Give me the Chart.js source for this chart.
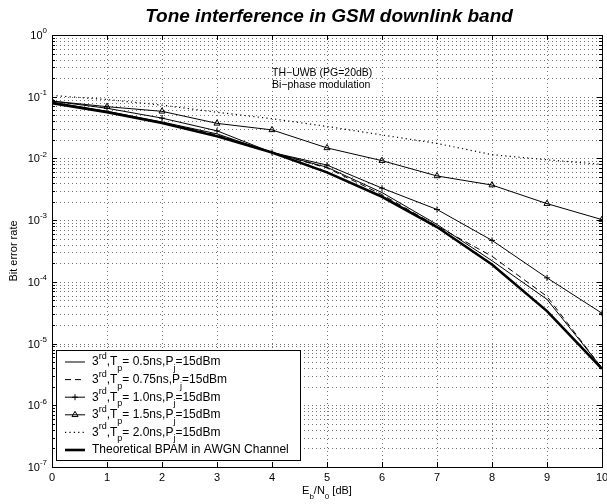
<!DOCTYPE html>
<html><head><meta charset="utf-8">
<script src="https://cdn.jsdelivr.net/npm/chart.js@4/dist/chart.umd.min.js"></script>
<style>html,body{margin:0;padding:0;background:#fff}#wrap{width:607px;height:504px;position:relative}</style>
</head><body><div id="wrap"><canvas id="c" width="607" height="504"></canvas></div>
<script>
// ---- data ----
const ebn0 = [0,1,2,3,4,5,6,7,8,9,10];
const berTp050 = [0.082,0.058,0.039,0.025,0.0125,0.0072,0.0028,0.00085,0.00022,0.000052,0.0000040];
const berTp075 = [0.080,0.057,0.038,0.024,0.0125,0.0070,0.0026,0.00080,0.00026,0.000058,0.0000040];
const berTp100 = [0.085,0.065,0.045,0.028,0.0125,0.0078,0.0033,0.00149,0.00047,0.000116,0.000031];
const berTp150 = [0.085,0.069,0.058,0.037,0.029,0.0148,0.0092,0.0052,0.0037,0.00185,0.00102];
const berTp200 = [0.105,0.090,0.073,0.056,0.044,0.033,0.024,0.0175,0.0115,0.0095,0.0080];
const berBPAM  = [0.0786,0.0563,0.0375,0.0229,0.0125,0.00595,0.00239,0.000773,0.000191,0.0000336,0.0000039];
const pulseWidths = ['0.5','0.75','1.0','1.5','2.0'];
const xTickValues = [0,1,2,3,4,5,6,7,8,9,10];
const yTickExponents = [0,-1,-2,-3,-4,-5,-6,-7];
const titleText = 'Tone interference in GSM downlink band';
const noteLines = ['TH\u2212UWB (PG=20dB)','Bi\u2212phase modulation'];
const lastLegendText = 'Theoretical BPAM in AWGN Channel';

const FONT = '"Liberation Sans", Arial, Helvetica, sans-serif';
const pts = arr => ebn0.map((x,i)=>({x, y:arr[i]}));

const styles = [
  {data:berTp050, width:1, dash:[], point:false, r:0},
  {data:berTp075, width:1, dash:[6,4], point:false, r:0},
  {data:berTp100, width:1, dash:[], point:'cross', r:3},
  {data:berTp150, width:1, dash:[], point:'triangle', r:3.5},
  {data:berTp200, width:1.2, dash:[1.2,3.2], point:false, r:0},
  {data:berBPAM,  width:2.6, dash:[], point:false, r:0}
];
const labels = [...pulseWidths.map(p=>'3rd,Tp= '+p+'ns,Pj=15dBm'), lastLegendText];

const datasets = styles.map((s,i)=>({
  label: labels[i],
  data: pts(s.data),
  borderColor:'#000',
  borderWidth:s.width,
  borderDash:s.dash,
  pointStyle: s.point || 'circle',
  pointRadius: s.r,
  pointBorderColor:'#000',
  pointBorderWidth:1,
  pointBackgroundColor:'rgba(0,0,0,0)',
  tension:0,
  fill:false
}));

function drawRich(ctx, x, y, segs, base){
  let cx = x;
  for (const s of segs){
    const size = (s.sup||s.sub) ? Math.round(base*0.75) : base;
    ctx.font = size+'px '+FONT;
    const dy = s.sup ? -base*0.45 : (s.sub ? base*0.55 : 0);
    ctx.fillText(s.t, cx, y+dy);
    cx += ctx.measureText(s.t).width;
  }
  return cx - x;
}
function richWidth(ctx, segs, base){
  let w=0;
  for (const s of segs){
    const size = (s.sup||s.sub) ? Math.round(base*0.75) : base;
    ctx.font = size+'px '+FONT;
    w += ctx.measureText(s.t).width;
  }
  return w;
}

const matlab = {
  id:'matlab',
  beforeDatasetsDraw(chart){
    const {ctx, chartArea:a, scales:{x,y}} = chart;
    ctx.save();
    ctx.strokeStyle='rgba(0,0,0,0.55)';
    ctx.lineWidth=1;
    ctx.setLineDash([1,3]);
    for (const v of xTickValues){
      const px = Math.round(x.getPixelForValue(v))+0.5;
      ctx.beginPath(); ctx.moveTo(px,a.top); ctx.lineTo(px,a.bottom); ctx.stroke();
    }
    for (const e of yTickExponents){
      for (let k=1;k<=9;k++){
        const v = k*Math.pow(10,e);
        if (v>1.0001) continue;
        if (v<1e-7*0.999) continue;
        const py = Math.round(y.getPixelForValue(v))+0.5;
        ctx.beginPath(); ctx.moveTo(a.left,py); ctx.lineTo(a.right,py); ctx.stroke();
      }
    }
    ctx.restore();
  },
  afterDatasetsDraw(chart){
    const {ctx, chartArea:a, scales:{x,y}} = chart;
    ctx.save();
    ctx.setLineDash([]);
    ctx.strokeStyle='#000'; ctx.fillStyle='#000'; ctx.lineWidth=1;
    // ticks inward on all sides
    for (const v of xTickValues){
      const px = Math.round(x.getPixelForValue(v))+0.5;
      ctx.beginPath();
      ctx.moveTo(px,a.bottom); ctx.lineTo(px,a.bottom-5);
      ctx.moveTo(px,a.top); ctx.lineTo(px,a.top+5);
      ctx.stroke();
    }
    for (const e of yTickExponents){
      for (let k=1;k<=9;k++){
        const v = k*Math.pow(10,e);
        if (v>1.0001 || v<1e-7*0.999) continue;
        const py = Math.round(y.getPixelForValue(v))+0.5;
        const len = k===1 ? 5 : 3;
        ctx.beginPath();
        ctx.moveTo(a.left,py); ctx.lineTo(a.left+len,py);
        ctx.moveTo(a.right,py); ctx.lineTo(a.right-len,py);
        ctx.stroke();
      }
    }
    // frame
    ctx.strokeRect(Math.round(a.left)+0.5, Math.round(a.top)+0.5, Math.round(a.right-a.left), Math.round(a.bottom-a.top));

    // x tick labels
    ctx.font='11px '+FONT; ctx.textAlign='center'; ctx.textBaseline='middle';
    for (const v of xTickValues){
      ctx.fillText(String(v), x.getPixelForValue(v), a.bottom+11);
    }
    // y tick labels 10^e
    ctx.textAlign='left';
    for (const e of yTickExponents){
      const segs=[{t:'10'},{t:String(e),sup:true}];
      const w = richWidth(ctx,segs,11);
      drawRich(ctx, 47-w, y.getPixelForValue(Math.pow(10,e))+1, segs, 11);
    }
    // x label
    const xl=[{t:'E'},{t:'b',sub:true},{t:'/N'},{t:'0',sub:true},{t:' [dB]'}];
    const xw=richWidth(ctx,xl,11);
    drawRich(ctx,(a.left+a.right)/2-xw/2, a.bottom+24, xl, 11);
    // y label
    ctx.save();
    ctx.translate(14,(a.top+a.bottom)/2);
    ctx.rotate(-Math.PI/2);
    ctx.font='11px '+FONT; ctx.textAlign='center';
    ctx.fillText('Bit error rate',0,0);
    ctx.restore();
    // title
    ctx.font='italic bold 19px '+FONT; ctx.textAlign='center';
    ctx.fillText(titleText,(a.left+a.right)/2+2,17);
    // annotation
    ctx.font='10.5px '+FONT; ctx.textAlign='left';
    noteLines.forEach((t,i)=>ctx.fillText(t, x.getPixelForValue(4.0), 73+i*12));

    // legend
    const L={l:56.5,t:350.5,r:300.5,b:460.5};
    ctx.fillStyle='#fff';
    ctx.fillRect(L.l,L.t,L.r-L.l,L.b-L.t);
    ctx.strokeStyle='#000'; ctx.lineWidth=1;
    ctx.strokeRect(L.l,L.t,L.r-L.l,L.b-L.t);
    ctx.fillStyle='#000';
    chart.data.datasets.forEach((ds,i)=>{
      const ry = 362 + i*17.6;
      ctx.save();
      ctx.strokeStyle='#000';
      ctx.lineWidth=ds.borderWidth;
      ctx.setLineDash(ds.borderDash||[]);
      ctx.beginPath(); ctx.moveTo(65,ry); ctx.lineTo(85,ry); ctx.stroke();
      ctx.setLineDash([]);
      ctx.lineWidth=1;
      if (ds.pointRadius>0){
        ctx.fillStyle='rgba(0,0,0,0)';
        Chart.helpers.drawPoint(ctx,{pointStyle:ds.pointStyle,radius:ds.pointRadius,rotation:0,borderWidth:1},75,ry);
      }
      ctx.restore();
      ctx.fillStyle='#000';
      ctx.textAlign='left'; ctx.textBaseline='middle';
      if (i<pulseWidths.length){
        const segs=[{t:'3'},{t:'rd',sup:true},{t:',T'},{t:'p',sub:true},{t:'= '+pulseWidths[i]+'ns,P'},{t:'j',sub:true},{t:'=15dBm'}];
        drawRich(ctx,92,ry,segs,12);
      } else {
        ctx.font='12px '+FONT;
        ctx.fillText(ds.label,92,ry);
      }
    });
    ctx.restore();
  }
};

new Chart(document.getElementById('c'),{
  type:'line',
  data:{datasets},
  options:{
    responsive:false,
    animation:false,
    devicePixelRatio:1,
    parsing:true,
    layout:{padding:{left:52,right:5,top:35,bottom:37}},
    scales:{
      x:{type:'linear',min:0,max:10,display:false},
      y:{type:'logarithmic',min:1e-7,max:1,display:false}
    },
    plugins:{legend:{display:false},tooltip:{enabled:false},title:{display:false}}
  },
  plugins:[matlab]
});
</script>
</body></html>
